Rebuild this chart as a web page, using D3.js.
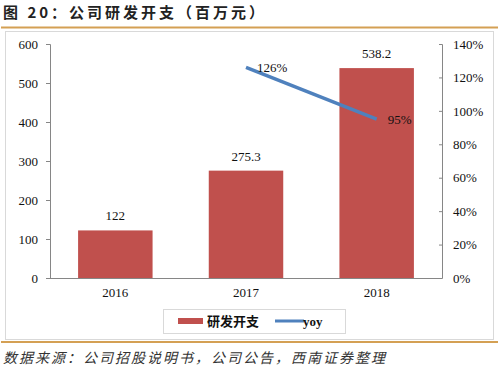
<!DOCTYPE html>
<html><head><meta charset="utf-8">
<script src="https://cdn.jsdelivr.net/npm/d3@7"></script>
<style>body{margin:0;background:#fff;}svg{display:block;}</style>
</head><body>
<script>
const categories = ["2016", "2017", "2018"];
const rdSpend = [122, 275.3, 538.2];
const yoy = [null, 1.26, 0.95];
const yoyLabels = ["", "126%", "95%"];
const leftTicks = [0, 100, 200, 300, 400, 500, 600];
const rightTicks = [0, 0.2, 0.4, 0.6, 0.8, 1.0, 1.2, 1.4];

const W = 499, H = 373;
const svg = d3.select("body").append("svg").attr("width", W).attr("height", H);
const serif = "'Liberation Serif','Times New Roman',serif";
const cjk = "'Noto Sans CJK SC',sans-serif";

// title
svg.append("text").attr("x", 3).attr("y", 18).attr("font-family", cjk).attr("font-weight", "bold")
  .attr("font-size", 15).attr("letter-spacing", 3).attr("fill", "#222").text("图 20：公司研发开支（百万元）");
svg.append("line").attr("x1", 1).attr("x2", 498).attr("y1", 27.5).attr("y2", 27.5)
  .attr("stroke", "#D4A054").attr("stroke-width", 2);
// chart frame
svg.append("rect").attr("x", 5.5).attr("y", 31.5).attr("width", 488).attr("height", 308)
  .attr("fill", "none").attr("stroke", "#D9D9D9");
svg.append("line").attr("x1", 1).attr("x2", 498).attr("y1", 342).attr("y2", 342)
  .attr("stroke", "#D4A054").attr("stroke-width", 2);
svg.append("text").attr("x", 3).attr("y", 363).attr("font-family", cjk).attr("font-style", "italic")
  .attr("font-size", 14).attr("letter-spacing", 2).attr("fill", "#333")
  .text("数据来源：公司招股说明书，公司公告，西南证券整理");

const x0 = 50, x1 = 442, yTop = 44, yBot = 278;
const x = d3.scaleBand().domain(categories).range([x0, x1]).paddingInner(0.43).paddingOuter(0.215);
const yL = d3.scaleLinear().domain([0, 600]).range([yBot, yTop]);
const yR = d3.scaleLinear().domain([0, 1.4]).range([yBot, yTop]);

// bars
svg.append("g").selectAll("rect").data(rdSpend).join("rect")
  .attr("x", (d, i) => x(categories[i])).attr("width", x.bandwidth())
  .attr("y", d => yL(d)).attr("height", d => yBot - yL(d)).attr("fill", "#C0504D");
svg.append("g").selectAll("text").data(rdSpend).join("text")
  .attr("x", (d, i) => x(categories[i]) + x.bandwidth() / 2).attr("y", d => yL(d) - 10)
  .attr("text-anchor", "middle").attr("font-family", serif).attr("font-size", 13).attr("fill", "#111")
  .text(d => d);

// axes
const axisStyle = g => {
  g.selectAll("path,line").attr("stroke", "#868686");
  g.selectAll("text").attr("font-family", serif).attr("font-size", 13).attr("fill", "#111");
};
const gl = svg.append("g").attr("transform", `translate(${x0},0)`)
  .call(d3.axisLeft(yL).tickValues(leftTicks).tickSize(4).tickSizeOuter(4).tickPadding(8))
  .call(axisStyle);
const gr = svg.append("g").attr("transform", `translate(${x1},0)`)
  .call(d3.axisRight(yR).tickValues(rightTicks).tickSize(-3).tickSizeOuter(-3).tickPadding(11)
    .tickFormat(d => Math.round(d * 100) + "%"))
  .call(axisStyle);
gr.selectAll("text").attr("text-anchor", "start");
const gb = svg.append("g").attr("transform", `translate(0,${yBot})`)
  .call(d3.axisBottom(x).tickSize(0).tickSizeOuter(0).tickPadding(10))
  .call(axisStyle);
gb.select("path").attr("d", `M${x0},0.5H${x1}`);

// yoy line
const pts = yoy.map((v, i) => ({c: categories[i], v, l: yoyLabels[i]})).filter(d => d.v != null);
svg.append("path").datum(pts)
  .attr("d", d3.line().x(d => x(d.c) + x.bandwidth() / 2).y(d => yR(d.v)))
  .attr("fill", "none").attr("stroke", "#4F81BD").attr("stroke-width", 3.5);
svg.append("g").selectAll("text").data(pts).join("text")
  .attr("x", d => x(d.c) + x.bandwidth() / 2 + 11).attr("y", d => yR(d.v) + 5)
  .attr("font-family", serif).attr("font-size", 13).attr("fill", "#111").text(d => d.l);

// legend
const lg = svg.append("g");
lg.append("rect").attr("x", 163.5).attr("y", 309.5).attr("width", 182).attr("height", 24)
  .attr("fill", "#fff").attr("stroke", "#D9D9D9");
lg.append("rect").attr("x", 178).attr("y", 318).attr("width", 25).attr("height", 6).attr("fill", "#C0504D");
lg.append("text").attr("x", 207).attr("y", 326).attr("font-family", cjk).attr("font-weight", "bold")
  .attr("font-size", 13).attr("fill", "#111").text("研发开支");
lg.append("line").attr("x1", 275).attr("x2", 304).attr("y1", 321).attr("y2", 321)
  .attr("stroke", "#4F81BD").attr("stroke-width", 3);
lg.append("text").attr("x", 303).attr("y", 326).attr("font-family", serif).attr("font-weight", "bold")
  .attr("font-size", 13).attr("fill", "#111").text("yoy");
</script>
</body></html>
